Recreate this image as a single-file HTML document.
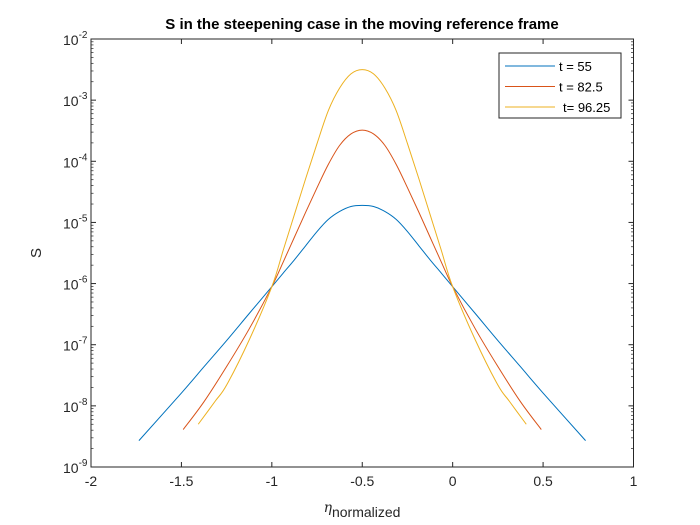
<!DOCTYPE html>
<html><head><meta charset="utf-8"><style>
body{margin:0;background:#fff;}
svg{font-family:"Liberation Sans",Arial,sans-serif;display:block;}
</style></head><body>
<svg id="chart" width="700" height="525" xmlns="http://www.w3.org/2000/svg">
<rect width="700" height="525" fill="#fff"/>
<text x="362" y="29" text-anchor="middle" font-size="15" font-weight="bold" fill="#000">S in the steepening case in the moving reference frame</text>
<g id="axes"></g>
<g id="series"></g>
<text transform="translate(41,253) rotate(-90)" text-anchor="middle" font-size="15" fill="#262626">S</text>
<text x="362" y="517" text-anchor="middle" font-size="14" fill="#262626"><tspan font-family="DejaVu Serif" font-style="italic" dy="-5">η</tspan><tspan dy="5">normalized</tspan></text>
<g id="legend"></g>
</svg>
<script>
const xTicks=[-2,-1.5,-1,-0.5,0,0.5,1];
const xTickLabels=["-2","-1.5","-1","-0.5","0","0.5","1"];
const yExps=[-9,-8,-7,-6,-5,-4,-3,-2];
const seriesNames=["t = 55","t = 82.5","t= 96.25"];
const x55=[-1.735,-1.5,-1.375,-1.25,-1.125,-1,-0.9375,-0.875,-0.8125,-0.75,-0.6875,-0.625,-0.5625,-0.5,-0.4375,-0.375,-0.3125,-0.25,-0.1875,-0.125,-0.0625,0,0.125,0.25,0.375,0.5,0.735];
const y55=[2.7e-9,1.62e-8,4.37e-8,1.17e-7,3.24e-7,8.9e-7,1.48e-6,2.45e-6,4.17e-6,7.1e-6,1.12e-5,1.51e-5,1.82e-5,1.9e-5,1.82e-5,1.51e-5,1.12e-5,7.1e-6,4.17e-6,2.45e-6,1.48e-6,8.9e-7,3.24e-7,1.17e-7,4.37e-8,1.62e-8,2.7e-9];
const x825=[-1.49,-1.375,-1.25,-1.125,-1,-0.9375,-0.875,-0.8125,-0.75,-0.6875,-0.625,-0.5625,-0.5,-0.4375,-0.375,-0.3125,-0.25,-0.1875,-0.125,-0.0625,0,0.125,0.25,0.375,0.49];
const y825=[4.1e-9,1.17e-8,4.4e-8,1.82e-7,8.9e-7,2.24e-6,5.75e-6,1.48e-5,3.7e-5,8.9e-5,1.82e-4,2.8e-4,3.24e-4,2.8e-4,1.82e-4,8.9e-5,3.7e-5,1.48e-5,5.75e-6,2.24e-6,8.9e-7,1.82e-7,4.4e-8,1.17e-8,4.1e-9];
const x9625=[-1.407,-1.3125,-1.25,-1.125,-1,-0.9375,-0.875,-0.8125,-0.75,-0.6875,-0.625,-0.5625,-0.5,-0.4375,-0.375,-0.3125,-0.25,-0.1875,-0.125,-0.0625,0,0.125,0.25,0.3125,0.407];
const y9625=[5.0e-9,1.2e-8,2.19e-8,1.2e-7,8.9e-7,3.47e-6,1.35e-5,5.25e-5,1.95e-4,6.76e-4,1.58e-3,2.69e-3,3.16e-3,2.69e-3,1.58e-3,6.76e-4,1.95e-4,5.25e-5,1.35e-5,3.47e-6,8.9e-7,1.2e-7,2.19e-8,1.2e-8,5.0e-9];
const colors=["#0072BD","#D95319","#EDB120"];
const L=91,R=633.5,T=39,B=467;
const sx=v=>L+(v+2)/3*(R-L);
const sy=v=>B-(Math.log10(v)+9)/7*(B-T);
const NS="http://www.w3.org/2000/svg";
function mk(t,a,p){const e=document.createElementNS(NS,t);for(const k in a)e.setAttribute(k,a[k]);p.appendChild(e);return e;}
const ax=document.getElementById('axes');
const box=mk('rect',{x:L,y:T,width:R-L,height:B-T,fill:'none',stroke:'#262626','stroke-width':1},ax);


xTicks.forEach((v,i)=>{const x=sx(v);
 const t1=mk('line',{x1:x,x2:x,y1:B,y2:B-5,stroke:'#262626'},ax);
 
 
 mk('line',{x1:x,x2:x,y1:T,y2:T+5,stroke:'#262626'},ax);
 const tx=mk('text',{x:x,y:B+19,'text-anchor':'middle','font-size':14,fill:'#262626'},ax);
 
 
 tx.textContent=xTickLabels[i];});
yExps.forEach(e=>{const y=sy(Math.pow(10,e));
 const t1=mk('line',{x1:L,x2:L+5,y1:y,y2:y,stroke:'#262626'},ax);
 
 
 mk('line',{x1:R,x2:R-5,y1:y,y2:y,stroke:'#262626'},ax);
 const tx=mk('text',{x:L-28,y:y+6,'font-size':14,fill:'#262626'},ax);
 
 
 tx.innerHTML='10<tspan dy="-7" font-size="10">'+e+'</tspan>';
 for(let m=2;m<10&&e<-2;m++){const ym=sy(m*Math.pow(10,e));
  mk('line',{x1:L,x2:L+2.5,y1:ym,y2:ym,stroke:'#262626','stroke-width':0.7},ax);
  mk('line',{x1:R,x2:R-2.5,y1:ym,y2:ym,stroke:'#262626','stroke-width':0.7},ax);}
});
function path(xs,ys){const p=xs.map((x,i)=>[sx(x),sy(ys[i])]);let d='M'+p[0][0]+','+p[0][1];
 for(let i=0;i<p.length-1;i++){const p0=p[i-1]||p[i],p1=p[i],p2=p[i+1],p3=p[i+2]||p[i+1];
  d+=' C'+(p1[0]+(p2[0]-p0[0])/6)+','+(p1[1]+(p2[1]-p0[1])/6)+' '+(p2[0]-(p3[0]-p1[0])/6)+','+(p2[1]-(p3[1]-p1[1])/6)+' '+p2[0]+','+p2[1];}
 return d;}
const sg=document.getElementById('series');
[[x55,y55],[x825,y825],[x9625,y9625]].forEach((s,i)=>{
 const pe=mk('path',{d:path(s[0],s[1]),fill:'none',stroke:colors[i],'stroke-width':1},sg);
 
 });
const lg=document.getElementById('legend');
mk('rect',{x:499,y:53,width:122,height:65,fill:'#fff',stroke:'#262626'},lg);
seriesNames.forEach((n,i)=>{const y=66+i*20.5;
 const li=mk('line',{x1:505,x2:555,y1:y,y2:y,stroke:colors[i]},lg);
 
 
 const t=mk('text',{x:i==2?563:559,y:y+5,'font-size':13,fill:'#000'},lg);
 
 
 t.textContent=n;});
</script>
</body></html>
